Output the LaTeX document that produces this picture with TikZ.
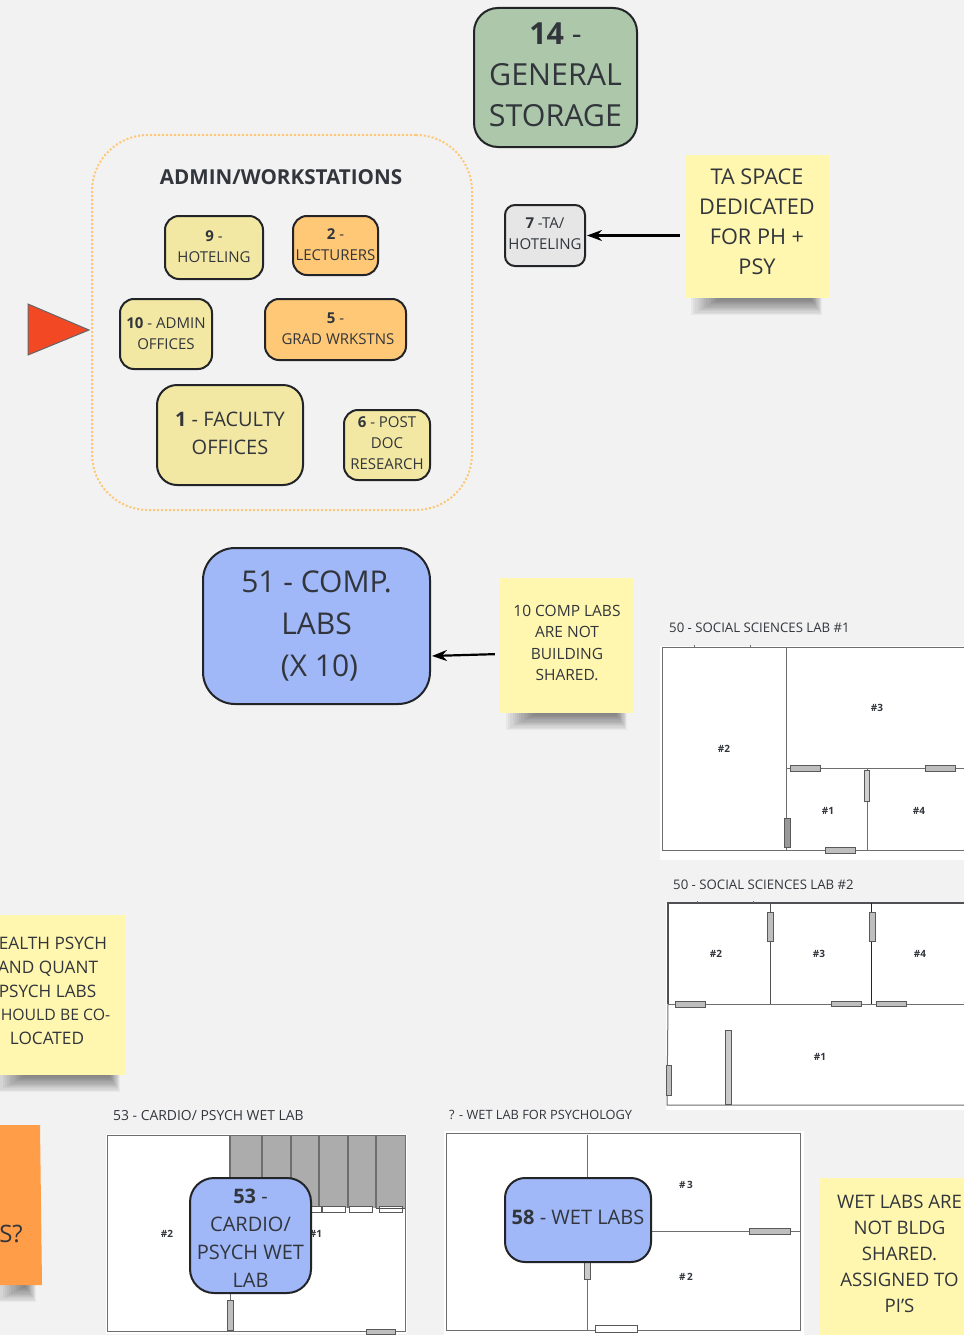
\documentclass[tikz,border=0pt]{standalone}
\usepackage{fontspec}
\setmainfont{Open Sans}
\usetikzlibrary{arrows.meta, shapes.geometric}
\definecolor{BgColor}{RGB}{242,242,242}
\definecolor{InkColor}{RGB}{50,54,60}
\definecolor{EdgeColor}{RGB}{34,36,40}
\definecolor{SageColor}{RGB}{172,199,170}
\definecolor{SandColor}{RGB}{243,232,163}
\definecolor{PeachColor}{RGB}{254,200,118}
\definecolor{GreyBoxColor}{RGB}{230,230,230}
\definecolor{PeriColor}{RGB}{160,183,248}
\definecolor{NoteColor}{RGB}{255,247,175}
\definecolor{StickyColor}{RGB}{255,157,72}
\definecolor{MarkerColor}{RGB}{243,72,36}
\definecolor{WallColor}{RGB}{110,110,110}
\definecolor{DoorColor}{RGB}{190,190,190}
\tikzstyle{arrow} = [line width=2.2pt, black, -{Stealth[length=15pt,width=11pt]}]
\tikzstyle{wall} = [line width=1pt, WallColor]
\tikzstyle{door} = [line width=0.8pt, black!65, fill=DoorColor]
\tikzstyle{whitedoor} = [line width=0.8pt, black!65, fill=white]
\tikzset{
  room/.style={draw=EdgeColor, line width=2pt, rounded corners=14pt, inner sep=0pt, align=center, text=InkColor},
  note/.style={fill=NoteColor, inner sep=0pt, align=center, text=InkColor},
  plantitle/.style={anchor=west, inner sep=0pt, text=InkColor, font=\fontsize{13.2}{15}\selectfont},
  roomtag/.style={inner sep=0pt, text=InkColor, font=\fontsize{10}{12}\bfseries\selectfont}
}
\newcommand{\noteshadow}[3]{%
  \foreach \k in {0,...,13}
    \fill[black, opacity=0.04] (#1-4+\k*2.2,#3) rectangle (#2+2-\k*0.8,#3+17-\k*1.2);
}
\newcommand{\liftup}[1]{\rule[-#1]{0pt}{0pt}}
\begin{document}
\begin{tikzpicture}[x=1pt,y=-1pt]
  \useasboundingbox (0,0) rectangle (964,1335);
  \fill[BgColor] (0,0) rectangle (964,1335);

  % General storage
  \node[room, fill=SageColor, rounded corners=24pt, minimum width=163pt, minimum height=139pt, font=\fontsize{30.4}{41}\selectfont] (storage) at (555.5,77.5) {\textbf{14} -\\GENERAL\\STORAGE\liftup{5pt}};

  % Admin group
  \node[draw=PeachColor, line width=2pt, dash pattern=on 2pt off 2pt, rounded corners=56pt, minimum width=380pt, minimum height=375pt, inner sep=0pt] (admingroup) at (282,322.5) {};
  \node[inner sep=0pt, text=InkColor, font=\fontsize{20.6}{24}\bfseries\selectfont] (admintitle) at (281,177) {ADMIN/WORKSTATIONS};
  \node[room, fill=SandColor, minimum width=98pt, minimum height=63pt, font=\fontsize{15}{21}\selectfont] (hoteling) at (214,247.5) {\textbf{9} -\\HOTELING\liftup{2pt}};
  \node[room, fill=PeachColor, minimum width=85pt, minimum height=59pt, font=\fontsize{15}{21}\selectfont] (lecturers) at (335.5,245.5) {\textbf{2} -\\LECTURERS\liftup{2pt}};
  \node[room, fill=SandColor, minimum width=92pt, minimum height=70pt, font=\fontsize{15}{21}\selectfont] (adminoff) at (166,334) {\textbf{10} - ADMIN\\OFFICES};
  \node[room, fill=PeachColor, minimum width=141pt, minimum height=61pt, font=\fontsize{15}{21}\selectfont] (gradwork) at (335.5,329.5) {\textbf{5} -\\\hspace*{5pt}GRAD WRKSTNS\liftup{2pt}};
  \node[room, fill=SandColor, rounded corners=20pt, minimum width=146pt, minimum height=100pt, font=\fontsize{20}{28}\selectfont] (faculty) at (230,435) {\textbf{1} - FACULTY\\OFFICES\liftup{4pt}};
  \node[room, fill=SandColor, minimum width=86pt, minimum height=70pt, font=\fontsize{15}{21}\selectfont] (postdoc) at (387,445) {\textbf{6} - POST\\DOC\\RESEARCH\liftup{3pt}};

  % Red marker
  \fill[fill=MarkerColor, draw=EdgeColor!70, line width=1pt] (28,304) -- (89,330) -- (28,355) -- cycle;

  % TA space
  \node[room, fill=GreyBoxColor, rounded corners=10pt, minimum width=80pt, minimum height=61pt, font=\fontsize{15}{21}\selectfont] (tahotel) at (545,235.5) {\textbf{7} -TA/\\HOTELING\liftup{3pt}};
  \noteshadow{695}{820}{298}
  \node[note, minimum width=144pt, minimum height=143pt, font=\fontsize{21.7}{30}\selectfont] (tanote) at (757,226.5) {TA SPACE\\DEDICATED\\FOR PH +\\PSY\liftup{9pt}};
  \draw[arrow, shorten <=5pt, shorten >=1pt] (tanote.west |- tahotel.east) -- (tahotel.east);

  % Comp labs
  \node[room, fill=PeriColor, rounded corners=32pt, minimum width=227pt, minimum height=156pt, font=\fontsize{30}{42}\selectfont] (complabs) at (316.5,626) {51 - COMP.\\LABS\\\hspace*{6pt}(X 10)};
  \noteshadow{510}{625}{713}
  \node[note, minimum width=134pt, minimum height=135pt, font=\fontsize{15.5}{21.3}\selectfont] (compnote) at (567,645.5) {10 COMP LABS\\ARE NOT\\BUILDING\\SHARED.\liftup{5pt}};
  \draw[arrow, shorten <=5pt, shorten >=1pt] (compnote.west |- 0,654) -- (complabs.east |- 0,656);

  % Social sciences lab 1
  \node[plantitle] (labonetitle) at (669,627.5) {50 - SOCIAL SCIENCES LAB \#1};
  \fill[white] (660,646) rectangle (964,860);
  \draw[wall] (964,647) -- (662,647) -- (662,850) -- (964,850);
  \draw[wall] (786.5,647) -- (786.5,850);
  \draw[wall] (786.5,768) -- (964,768);
  \draw[wall, line width=0.8pt] (867,768) -- (867,850);
  \draw[wall, line width=0.8pt] (694,645) -- (694,647) (750,645) -- (750,647);
  \draw[door] (790,765.5) rectangle (820,771);
  \draw[door] (925,765) rectangle (955,771);
  \draw[door, fill=DoorColor!70] (864.5,770) rectangle (869.5,801);
  \draw[door, fill=gray!80] (784,818) rectangle (790,847);
  \draw[door] (825.5,847) rectangle (855,853);
  \node[roomtag] (labonetwo) at (724,749) {\#2};
  \node[roomtag] (labonethree) at (877,708) {\#3};
  \node[roomtag] (laboneone) at (828,811) {\#1};
  \node[roomtag] (labonefour) at (919,811) {\#4};

  % Social sciences lab 2
  \node[plantitle] (labtwotitle) at (673,884.5) {50 - SOCIAL SCIENCES LAB \#2};
  \fill[white] (666,902) rectangle (964,1110);
  \draw[wall, line width=1.3pt, EdgeColor!80] (964,903) -- (668,903) -- (668,1004);
  \draw[wall] (668,1004) -- (667,1105) -- (964,1105);
  \draw[wall, EdgeColor!80, line width=1.2pt] (770.5,903) -- (770.5,1004);
  \draw[wall, EdgeColor, line width=1.4pt] (871.7,903) -- (871.7,1004);
  \draw[wall] (668,1004) -- (964,1004);
  \draw[wall, line width=0.8pt] (697,901) -- (697,903) (753,901) -- (753,903);
  \draw[door] (767,912) rectangle (773,941);
  \draw[door] (869,912) rectangle (875,941);
  \draw[door] (675,1001.5) rectangle (705,1007);
  \draw[door] (831.5,1001) rectangle (861,1006.5);
  \draw[door] (876.5,1001) rectangle (906,1006.5);
  \draw[door, fill=DoorColor!80] (725,1030) rectangle (731,1104);
  \draw[door] (666,1065) rectangle (671,1095);
  \node[roomtag] (labtwotwo) at (716,954) {\#2};
  \node[roomtag] (labtwothree) at (819,954) {\#3};
  \node[roomtag] (labtwofour) at (920,954) {\#4};
  \node[roomtag] (labtwoone) at (820,1057) {\#1};

  % Health psych note, cut by the page edge
  \noteshadow{0}{118}{1075}
  \fill[NoteColor] (0,915) rectangle (125,1075);
  \foreach \name/\cx/\cy/\words in {hp/53/943/EALTH PSYCH, aq/48/968.5/AND QUANT, pl/47.5/991/PSYCH LABS, hb/55.5/1015/{\fontsize{15.8}{20}\selectfont HOULD BE CO-}, lo/47/1038/LOCATED}
    \node[inner sep=0pt, text=InkColor, font=\fontsize{17.2}{20}\selectfont] (\name) at (\cx,\cy) {\words};

  % Orange sticky, cut by the page edge
  \noteshadow{0}{34}{1285}
  \fill[StickyColor] (0,1125) -- (40,1125) -- (42,1285) -- (0,1285) -- cycle;
  \node[inner sep=0pt, text=InkColor, font=\fontsize{24}{28}\selectfont] (sticky) at (11,1234) {S?};

  % Cardio psych wet lab
  \node[plantitle, font=\fontsize{13.9}{16}\selectfont] (cardiotitle) at (113,1115.5) {53 - CARDIO/ PSYCH WET LAB};
  \fill[white] (106,1134) rectangle (407,1334);
  \fill[gray!65] (230,1135) rectangle (405,1208);
  \draw[wall] (107,1135) rectangle (405,1331);
  \foreach \wx in {230,262,291,319,348,376}
    \draw[wall, line width=1.5pt] (\wx,1135) -- (\wx,1208);
  \foreach \wx in {298,322,349,379}
    \draw[whitedoor] (\wx,1206) rectangle (\wx+23,1212);
  \draw[wall, EdgeColor!80] (376,1208) -- (405,1208);
  \draw[wall] (230,1290) -- (230,1331);
  \draw[door] (227,1300) rectangle (233,1330);
  \draw[door] (366,1329) rectangle (395,1334);
  \node[roomtag] (cardiotwo) at (167,1234) {\#2};
  \node[roomtag] (cardioone) at (316,1234) {\#1};
  \node[room, fill=PeriColor, rounded corners=24pt, minimum width=121pt, minimum height=115pt, font=\fontsize{20}{28}\selectfont] (cardio) at (250.5,1235.5) {\rule{0pt}{19pt}\textbf{53} -\\CARDIO/\\PSYCH WET\\LAB};

  % Wet lab for psychology
  \node[plantitle, font=\fontsize{12.8}{15}\selectfont] (wettitle) at (449,1114.5) {? - WET LAB FOR PSYCHOLOGY};
  \fill[white] (444,1131) rectangle (804,1335);
  \draw[wall] (446,1133) rectangle (800,1330);
  \draw[wall] (587,1135) -- (587,1330);
  \draw[wall] (587,1231) -- (800,1231);
  \draw[door] (749,1228) rectangle (790,1234);
  \draw[door, fill=DoorColor!80] (584,1262) rectangle (590,1279);
  \draw[whitedoor] (595,1325) rectangle (637,1332);
  \node[roomtag] (wetthree) at (686,1185) {\#\,3};
  \node[roomtag] (wettwo) at (686,1277) {\#\,2};
  \node[room, fill=PeriColor, rounded corners=20pt, minimum width=146pt, minimum height=84pt, font=\fontsize{20}{28}\selectfont] (wetlabs) at (578,1220) {\textbf{58} - WET LABS\liftup{6pt}};
  \fill[NoteColor] (820,1178) rectangle (964,1335);
  \node[inner sep=0pt, align=center, text=InkColor, font=\fontsize{18.6}{26}\selectfont] (wetnote) at (899.5,1254) {WET LABS ARE\\NOT BLDG\\SHARED.\\ASSIGNED TO\\PI'S};
\end{tikzpicture}
\end{document}
